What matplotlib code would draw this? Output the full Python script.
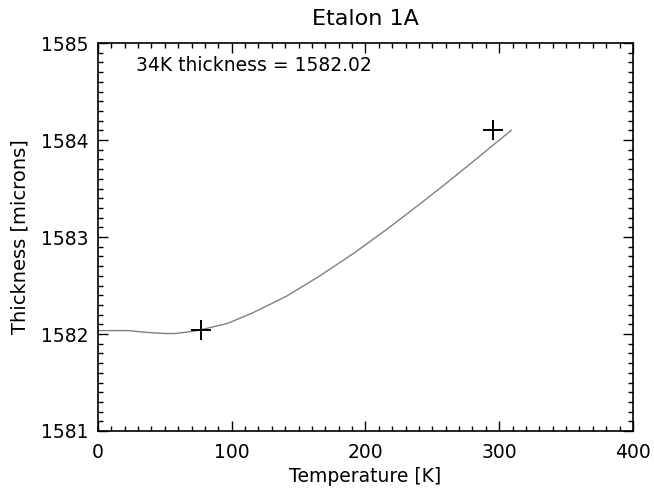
import matplotlib
matplotlib.use("Agg")
import matplotlib.pyplot as plt
from matplotlib.ticker import MultipleLocator

# curve
temp = [0, 23, 35, 50, 58, 70, 77, 97, 116, 141, 166, 191, 216, 236, 261, 286, 309]
thick = [1582.035, 1582.035, 1582.018, 1582.005, 1582.005, 1582.026, 1582.043,
         1582.11, 1582.22, 1582.39, 1582.60, 1582.83, 1583.08, 1583.29,
         1583.56, 1583.84, 1584.10]

# measured points (crosses)
pt_temp = [77, 295]
pt_thick = [1582.04, 1584.10]

plt.rcParams['font.family'] = ['DejaVu Sans']

fig = plt.figure(figsize=(6.54, 4.91), dpi=100)
ax = fig.add_axes([0.1498, 0.1222, 0.818, 0.7902])

ax.plot(temp, thick, color='#808080', lw=1.0)
ax.plot(pt_temp, pt_thick, ls='none', marker='+', color='black', ms=14, mew=1.4)

ax.set_xlim(0, 400)
ax.set_ylim(1581, 1585)
ax.xaxis.set_major_locator(MultipleLocator(100))
ax.xaxis.set_minor_locator(MultipleLocator(10))
ax.yaxis.set_major_locator(MultipleLocator(1))
ax.yaxis.set_minor_locator(MultipleLocator(0.1))
ax.tick_params(which='both', direction='in', top=True, right=True, width=1, colors='black')
ax.tick_params(which='major', length=7, labelsize=13.5, pad=7)
ax.tick_params(which='minor', length=3.5)
ax.tick_params(axis='x', which='major', pad=9)
for s in ax.spines.values():
    s.set_linewidth(1.2)

ax.set_title('Etalon 1A', fontsize=16, pad=13)
ax.set_xlabel('Temperature [K]', fontsize=13.5, labelpad=3)
ax.set_ylabel('Thickness [microns]', fontsize=14, labelpad=8)
ax.text(0.071, 0.943, '34K thickness = 1582.02', transform=ax.transAxes,
        fontsize=13.5, va='center', ha='left')

fig.savefig('out.png', dpi=100)
